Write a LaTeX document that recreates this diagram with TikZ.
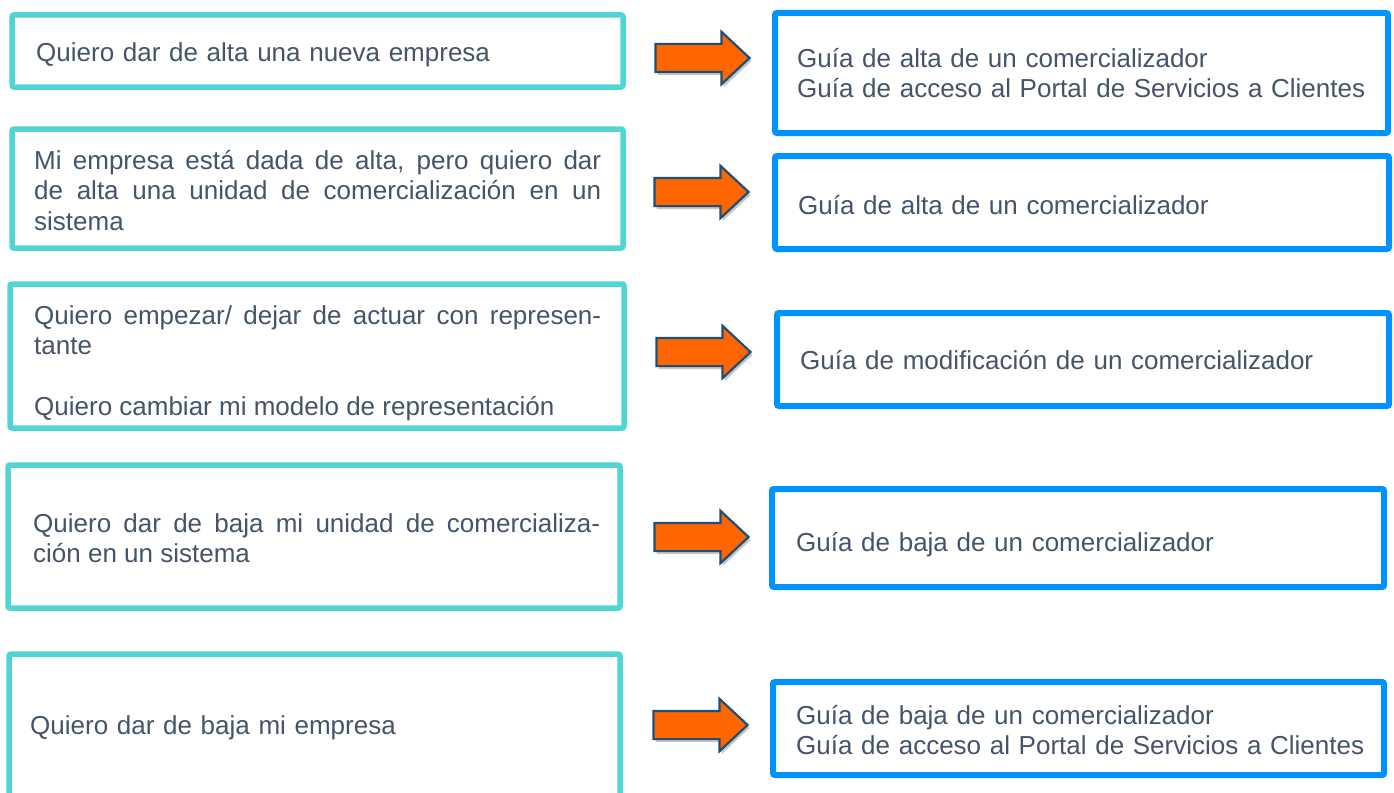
\documentclass[tikz,border=0pt]{standalone}
\usepackage{fontspec}
\setmainfont{Liberation Sans}
\usetikzlibrary{shapes.arrows,shadows}
\definecolor{tealc}{RGB}{80,213,212}
\definecolor{bluec}{RGB}{0,146,255}
\definecolor{textc}{RGB}{68,84,106}
\definecolor{navyc}{RGB}{31,78,121}
\definecolor{orangec}{RGB}{255,102,0}
\begin{document}
\begin{tikzpicture}[x=1pt,y=-1pt,
  lbox/.style={draw=tealc, line width=5.5pt, rounded corners=2pt, inner sep=0pt, outer sep=0pt, anchor=north west},
  rbox/.style={draw=bluec, line width=6pt, rounded corners=2pt, inner sep=0pt, outer sep=0pt, anchor=north west},
  txt/.style={font=\fontsize{26}{30.5}\selectfont, text=textc, inner sep=0pt, anchor=base west, text width=590pt, align=left},
  jtxt/.style={font=\fontsize{26}{30.5}\selectfont, text=textc, inner sep=0pt, anchor=base west, text width=567pt, align=justify},
  blockarrow/.style={single arrow, draw=navyc, fill=orangec, line width=2.2pt, minimum height=94pt,
    single arrow head extend=12pt, single arrow tip angle=86, inner xsep=0pt, inner ysep=13pt,
    drop shadow={shadow xshift=2pt, shadow yshift=-3pt, fill=black, opacity=0.22}}
]
\useasboundingbox (0,0) rectangle (1394,792);
\clip (0,0) rectangle (1394,792);
\fill[white] (0,0) rectangle (1394,792);

% left texts
\node[txt] (l1t) at (36,62) {Quiero dar de alta una nueva empresa};
\node[jtxt] (l2t) at (34,169) {Mi empresa está dada de alta, pero quiero dar\linebreak de alta una unidad de comercialización en un\linebreak sistema};
\node[jtxt] (l3t) at (34,324) {Quiero empezar/ dejar de actuar con represen-\linebreak tante\\[30.5pt]Quiero cambiar mi modelo de representación};
\node[jtxt] (l4t) at (33,532) {Quiero dar de baja mi unidad de comercializa-\linebreak ción en un sistema};
\node[txt] (l5t) at (30,734) {Quiero dar de baja mi empresa};

% right texts
\node[txt] (r1t) at (797,67) {Guía de alta de un comercializador\\Guía de acceso al Portal de Servicios a Clientes};
\node[txt] (r2t) at (798,214) {Guía de alta de un comercializador};
\node[txt] (r3t) at (800,369) {Guía de modificación de un comercializador};
\node[txt] (r4t) at (796,551) {Guía de baja de un comercializador};
\node[txt] (r5t) at (796,724) {Guía de baja de un comercializador\\Guía de acceso al Portal de Servicios a Clientes};

% left boxes
\node[lbox, minimum width=611pt, minimum height=72pt] (l1) at (12,15) {};
\node[lbox, minimum width=611pt, minimum height=119pt] (l2) at (12,129) {};
\node[lbox, minimum width=614pt, minimum height=144pt] (l3) at (10,284) {};
\node[lbox, minimum width=612pt, minimum height=143pt] (l4) at (8,465) {};
\node[lbox, minimum width=611pt, minimum height=160pt] (l5) at (9,654) {};

% right boxes
\node[rbox, minimum width=613pt, minimum height=120pt] (r1) at (775,13) {};
\node[rbox, minimum width=614pt, minimum height=93pt] (r2) at (775,156) {};
\node[rbox, minimum width=612pt, minimum height=93pt] (r3) at (777,313) {};
\node[rbox, minimum width=612pt, minimum height=98pt] (r4) at (772,489) {};
\node[rbox, minimum width=611pt, minimum height=93pt] (r5) at (773,682) {};

% arrows
\node[blockarrow] (a1) at (695,58) {};
\node[blockarrow] (a2) at (694,192) {};
\node[blockarrow] (a3) at (696,352) {};
\node[blockarrow] (a4) at (694,537) {};
\node[blockarrow] (a5) at (693,725) {};
\end{tikzpicture}
\end{document}
